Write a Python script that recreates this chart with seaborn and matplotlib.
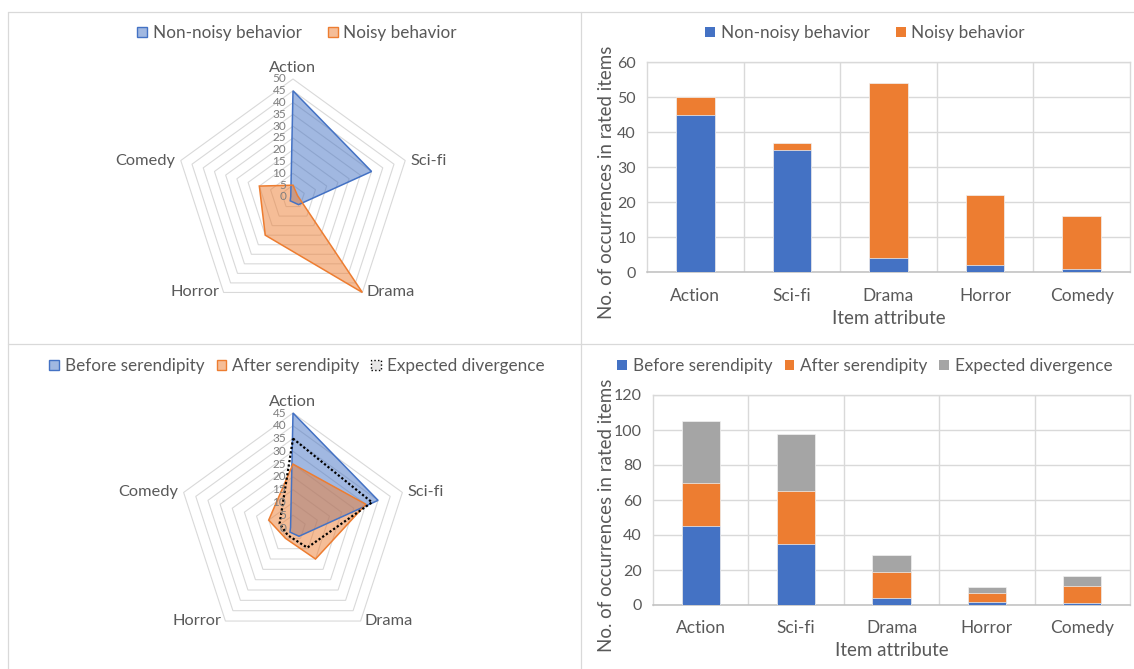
import numpy as np
import pandas as pd
import matplotlib
matplotlib.use("Agg")
import matplotlib.pyplot as plt
from matplotlib.patches import Patch, Polygon
from matplotlib.lines import Line2D
import seaborn as sns

# ---- data ----
genres = ["Action", "Sci-fi", "Drama", "Horror", "Comedy"]
radar_order = ["Action", "Sci-fi", "Drama", "Horror", "Comedy"]

non_noisy = [45, 35, 4, 2, 1]
noisy = [5, 2, 50, 20, 15]

before_serendipity = [45, 35, 4, 2, 1]
after_serendipity = [25, 30, 15, 5, 10]
expected_divergence = [35, 32.5, 9.5, 3.5, 5.5]

BLUE = "#4472C4"
ORANGE = "#ED7D31"
GRAY = "#A5A5A5"
GRID = "#D9D9D9"
TEXT = "#595959"

sns.set_style("white")
plt.rcParams["font.family"] = ["Lato", "DejaVu Sans"]
plt.rcParams["text.color"] = TEXT

W, H = 1134, 669
fig = plt.figure(figsize=(W / 100, H / 100), dpi=100)


def rect(l, t, r, b):
    return [l / W, 1 - b / H, (r - l) / W, (b - t) / H]


# panel frames
for (x0, y0, x1, y1) in [(7.5, 11.5, 1134, 11.5), (7.5, 343.5, 1134, 343.5),
                         (7.5, 11.5, 7.5, 669), (580.5, 11.5, 580.5, 669)]:
    fig.add_artist(Line2D([x0 / W, x1 / W], [1 - y0 / H, 1 - y1 / H],
                          transform=fig.transFigure, color=GRID, lw=0.9))


def radar(center, radius_px, rmax, series):
    cx, cy = center
    half = 150
    ax = fig.add_axes(rect(cx - half, cy - half, cx + half, cy + half))
    lim = rmax * half / radius_px
    ax.set_xlim(-lim, lim)
    ax.set_ylim(-lim, lim)
    ax.set_aspect("equal")
    ax.axis("off")
    n = len(radar_order)
    ang = np.linspace(0, 2 * np.pi, n, endpoint=False)

    def pts(vals):
        v = np.asarray(vals, dtype=float)
        return np.column_stack([v * np.sin(ang), v * np.cos(ang)])

    for ring in np.arange(5, rmax + 0.1, 5):
        ax.add_patch(Polygon(pts(np.full(n, ring)), closed=True, fill=False,
                             ec=GRID, lw=0.8, zorder=1))
    for v in np.arange(0, rmax + 0.1, 5):
        ax.annotate(f"{int(v)}", (0, v), xytext=(-5, 0), textcoords="offset points",
                    ha="right", va="center", fontsize=8.5, color="#7F7F7F", zorder=5)
    outer = pts(np.full(n, rmax))
    offs = [((0, 3), "center", "bottom"), ((4, 0), "left", "center"),
            ((3, 0), "left", "center"), ((-3, 0), "right", "center"),
            ((-4, 0), "right", "center")]
    for (x, y), lab, (o, ha, va) in zip(outer, radar_order, offs):
        ax.annotate(lab, (x, y), xytext=o, textcoords="offset points",
                    ha=ha, va=va, fontsize=11.8, color=TEXT)
    handles = []
    for label, vals, color, kind in series:
        if kind == "fill":
            ax.add_patch(Polygon(pts(vals), closed=True, fc=color, alpha=0.5,
                                 ec="none", zorder=2))
            ax.add_patch(Polygon(pts(vals), closed=True, fill=False, ec=color,
                                 lw=1.1, zorder=3))
            handles.append(Patch(fc=matplotlib.colors.to_rgba(color, 0.5),
                                 ec=color, lw=1, label=label))
        else:
            ax.add_patch(Polygon(pts(vals), closed=True, fill=False, ec="black",
                                 lw=1.6, ls=(0, (1, 1)), zorder=4))
            handles.append(Patch(fc="#E7E6E6", ec="black", lw=1, ls=":",
                                 label=label))
    return ax, handles


def stacked(axrect, layers, ymax, ystep):
    ax = fig.add_axes(axrect)
    cum = np.zeros(len(genres))
    tops = []
    for label, vals, color in layers:
        cum = cum + np.asarray(vals, dtype=float)
        tops.append((label, cum.copy(), color))
    # draw cumulative totals from the tallest layer down
    for label, total, color in reversed(tops):
        df = pd.DataFrame({"genre": genres, "count": total})
        sns.barplot(data=df, x="genre", y="count", order=genres, color=color,
                    saturation=1, width=0.4, errorbar=None, ax=ax, zorder=3,
                    edgecolor="#F2F2F2", linewidth=0.5)
    ax.set_xlim(-0.5, len(genres) - 0.5)
    ax.set_ylim(0, ymax)
    ax.set_yticks(np.arange(0, ymax + 0.1, ystep))
    ax.set_xticks(np.arange(len(genres) - 1) + 0.5, minor=True)
    ax.grid(True, axis="y", which="major", color=GRID, lw=1, zorder=0)
    ax.grid(True, axis="x", which="minor", color=GRID, lw=1, zorder=0)
    ax.grid(False, axis="x", which="major")
    for s in ["left", "right", "top"]:
        ax.spines[s].set_color(GRID)
        ax.spines[s].set_linewidth(1)
    ax.spines["bottom"].set_color("#BFBFBF")
    ax.spines["bottom"].set_linewidth(1.1)
    ax.tick_params(axis="both", which="both", length=0, colors=TEXT)
    ax.tick_params(axis="y", labelsize=11.5, pad=8)
    ax.tick_params(axis="x", labelsize=12.5, pad=11)
    ax.set_xlabel("Item attribute", fontsize=13.5, color=TEXT)
    ax.set_ylabel("No. of occurrences in rated items", fontsize=13.5, color=TEXT)
    ax.xaxis.label.set_va("center")
    ax.yaxis.label.set_va("center")
    handles = [Patch(fc=c, ec="none", label=l) for l, _, c in layers]
    return ax, handles


def add_legend(handles, cx, cy, gap_px):
    fs = 12.3
    fig.legend(handles=handles, loc="center", bbox_to_anchor=(cx / W, 1 - cy / H),
               ncol=len(handles), frameon=False, fontsize=fs,
               handlelength=0.58, handleheight=0.58, handletextpad=0.33,
               columnspacing=gap_px * 0.72 / fs, labelcolor=TEXT,
               borderaxespad=0, borderpad=0)


# top-left radar
_, h1 = radar((293, 197), 118, 50,
              [("Non-noisy behavior", non_noisy, BLUE, "fill"),
               ("Noisy behavior", noisy, ORANGE, "fill")])
add_legend(h1, 297, 33, 26)

# bottom-left radar
_, h2 = radar((293, 528), 115, 45,
              [("Before serendipity", before_serendipity, BLUE, "fill"),
               ("After serendipity", after_serendipity, ORANGE, "fill"),
               ("Expected divergence", expected_divergence, None, "line")])
add_legend(h2, 297, 366, 12)

# top-right stacked bars
ax3, h3 = stacked(rect(647, 62.3, 1130, 272.3),
                  [("Non-noisy behavior", non_noisy, BLUE),
                   ("Noisy behavior", noisy, ORANGE)], 60, 10)
ax3.xaxis.set_label_coords(0.5, -(319 - 272.3) / 210)
ax3.yaxis.set_label_coords((606 - 647) / 483, (272.3 - 182) / 210)
add_legend(h3, 865, 33, 26)

# bottom-right stacked bars
ax4, h4 = stacked(rect(653, 395, 1130, 605),
                  [("Before serendipity", before_serendipity, BLUE),
                   ("After serendipity", after_serendipity, ORANGE),
                   ("Expected divergence", expected_divergence, GRAY)], 120, 20)
ax4.xaxis.set_label_coords(0.5, -(651 - 605) / 210)
ax4.yaxis.set_label_coords((606 - 653) / 477, (605 - 515) / 210)
add_legend(h4, 865, 366, 12)

fig.savefig("out.png", dpi=100)
